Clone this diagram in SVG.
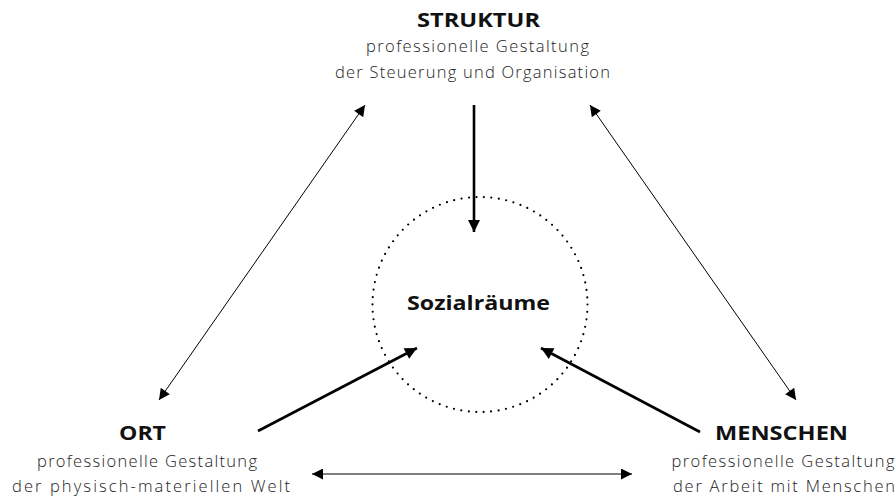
<svg xmlns="http://www.w3.org/2000/svg" width="896" height="497" viewBox="0 0 896 497">
<style>
.t{font-family:"Open Sans",Lato,sans-serif;font-weight:700;font-size:19px;fill:#111;text-anchor:middle}
.s{font-family:"Open Sans",Lato,sans-serif;font-weight:300;font-size:16.5px;fill:#222;text-anchor:middle}
.thin{stroke:#000;stroke-width:1;fill:none}
.thick{stroke:#000;stroke-width:2.6;fill:none}
</style>
<defs>
<marker id="ah2" viewBox="0 0 10 10" refX="10" refY="5" markerWidth="18" markerHeight="12" markerUnits="userSpaceOnUse" orient="auto"><path d="M0,0 L10,5 L0,10 z" fill="#000"/></marker>
<marker id="ah3" viewBox="0 0 10 10" refX="10" refY="5" markerWidth="16" markerHeight="11" markerUnits="userSpaceOnUse" orient="auto-start-reverse"><path d="M0,0 L10,5 L0,10 z" fill="#000"/></marker>
</defs>
<g id="center">
<circle cx="480" cy="304.5" r="107.5" fill="none" stroke="#000" stroke-width="2.2" stroke-dasharray="0 7.5" stroke-linecap="round"/>
<text class="t" x="478.5" y="310" font-size="20" textLength="143" lengthAdjust="spacingAndGlyphs">Sozialräume</text>
</g>
<g id="struktur">
<text class="t" x="478.5" y="27" textLength="123" lengthAdjust="spacingAndGlyphs">STRUKTUR</text>
<text class="s" x="477.5" y="52" textLength="223">professionelle Gestaltung</text>
<text class="s" x="472.5" y="78" textLength="275">der Steuerung und Organisation</text>
</g>
<g id="ort">
<text class="t" x="142.5" y="440" textLength="47" lengthAdjust="spacingAndGlyphs">ORT</text>
<text class="s" x="147" y="467" textLength="220">professionelle Gestaltung</text>
<text class="s" x="151" y="492" textLength="278">der physisch-materiellen Welt</text>
</g>
<g id="menschen">
<text class="t" x="781.5" y="440" textLength="133" lengthAdjust="spacingAndGlyphs">MENSCHEN</text>
<text class="s" x="783" y="467" textLength="223">professionelle Gestaltung</text>
<text class="s" x="784" y="492" textLength="222">der Arbeit mit Menschen</text>
</g>
<g id="connectors">
<line class="thick" x1="474" y1="105" x2="474" y2="232" marker-end="url(#ah2)"/>
<line class="thick" x1="258" y1="431" x2="417" y2="348" marker-end="url(#ah2)"/>
<line class="thick" x1="700" y1="432" x2="541" y2="348" marker-end="url(#ah2)"/>
<line class="thin" x1="159" y1="400" x2="365" y2="105" marker-start="url(#ah3)" marker-end="url(#ah3)"/>
<line class="thin" x1="796" y1="400" x2="590" y2="105" marker-start="url(#ah3)" marker-end="url(#ah3)"/>
<line class="thin" x1="312" y1="474" x2="632" y2="474" marker-start="url(#ah3)" marker-end="url(#ah3)"/>
</g>
</svg>
